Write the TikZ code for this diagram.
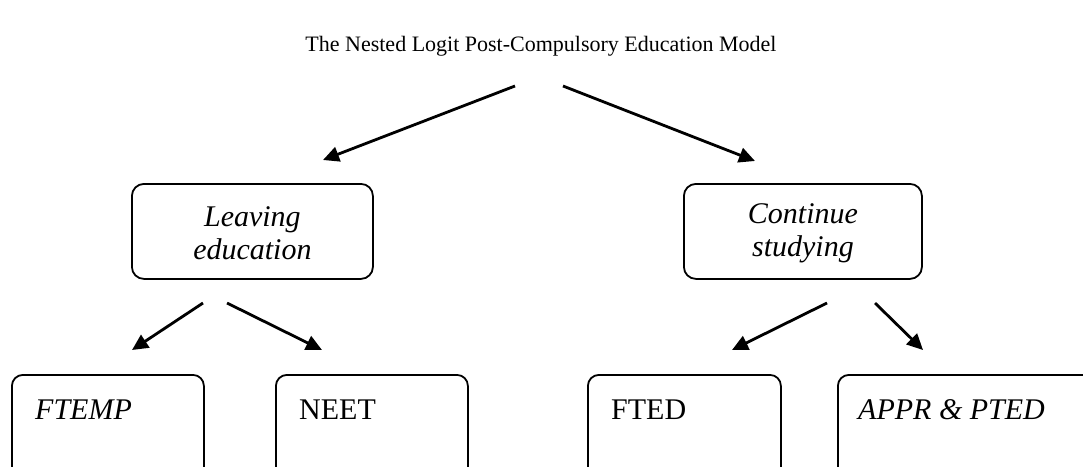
\documentclass[tikz,border=0pt]{standalone}
\usepackage{fontspec}
\setmainfont{Liberation Serif}
\usetikzlibrary{arrows.meta}
\begin{document}
\begin{tikzpicture}[x=1pt,y=-1pt,
  midbox/.style={draw, line width=1.8pt, rounded corners=12pt, minimum width=241pt, minimum height=95pt, anchor=north west, inner sep=0pt},
  lowbox/.style={draw, line width=1.8pt, rounded corners=11pt, minimum width=192pt, minimum height=120pt, anchor=north west, inner sep=0pt},
  boxtext/.style={font=\fontsize{30}{33}\selectfont, inner sep=0pt},
  arr/.style={line width=2.8pt, -{Triangle[length=16pt,width=15pt]}}]
\useasboundingbox (0,0) rectangle (1083,466);
\clip (0,0) rectangle (1083,466);
\node[font=\fontsize{22}{26}\selectfont, inner sep=0pt] (title) at (541,46) {The Nested Logit Post-Compulsory Education Model};
% top arrows
\coordinate (tl) at (515,86);
\coordinate (tr) at (563,86);
\coordinate (ltip) at (323,160);
\coordinate (rtip) at (755,161);
\draw[arr] (tl) -- (ltip);
\draw[arr] (tr) -- (rtip);
% middle boxes
\node[midbox] (leave) at (131,183) {};
\node[midbox, minimum width=238pt] (cont) at (683,183) {};
\node[boxtext, align=center] (leavet) at ([yshift=-2pt]leave.center) {\textit{Leaving}\\\textit{education}};
\node[boxtext, align=center] (contt) at ([yshift=-2pt]cont.center) {\textit{Continue}\\\textit{studying}};
% lower arrows
\coordinate (a1s) at (203,303);
\coordinate (a1e) at (132,350);
\coordinate (a2s) at (227,303);
\coordinate (a2e) at (322,350);
\coordinate (a3s) at (827,303);
\coordinate (a3e) at (732,350);
\coordinate (a4s) at (875,303);
\coordinate (a4e) at (923,350);
\draw[arr] (a1s) -- (a1e);
\draw[arr] (a2s) -- (a2e);
\draw[arr] (a3s) -- (a3e);
\draw[arr] (a4s) -- (a4e);
% bottom boxes
\node[lowbox] (ftemp) at (11,374) {};
\node[lowbox] (neet) at (275,374) {};
\node[lowbox, minimum width=193pt] (fted) at (587,374) {};
\node[lowbox, minimum width=300pt] (appr) at (837,374) {};
\node[boxtext, anchor=base west] (ftempt) at (35,419) {\textit{FTEMP}};
\node[boxtext, anchor=base west] (neett) at (299,419) {NEET};
\node[boxtext, anchor=base west] (ftedt) at (611,419) {FTED};
\node[boxtext, anchor=base west] (apprt) at (858,419) {\textit{APPR \& PTED}};
\end{tikzpicture}
\end{document}
